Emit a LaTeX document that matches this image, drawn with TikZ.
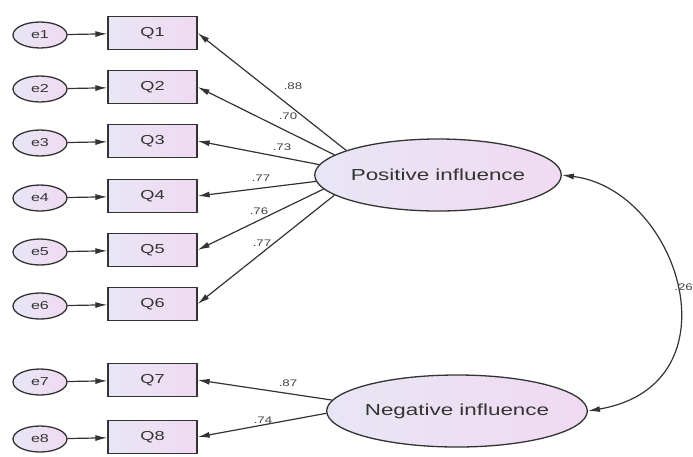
\documentclass[tikz,border=0pt]{standalone}
\usepackage{fontspec}
\setmainfont{Liberation Sans}
\newfontfamily\widefont[FakeStretch=1.4]{Liberation Sans}
\usetikzlibrary{arrows.meta,shapes.geometric}
\definecolor{lineC}{HTML}{333333}
\definecolor{fillL}{HTML}{E8E6F4}
\definecolor{fillR}{HTML}{F0DAF1}
\tikzset{
  obs/.style={draw=lineC, line width=1.3pt, rectangle, minimum width=89pt, minimum height=33pt, left color=fillL, right color=fillR, font=\widefont\fontsize{13}{13}\selectfont, text=black!80, inner sep=0pt},
  err/.style={draw=lineC, line width=1.3pt, ellipse, minimum width=54pt, minimum height=26pt, left color=fillL, right color=fillR, font=\widefont\fontsize{11.5}{12}\selectfont, text=black!80, inner sep=0pt},
  lat/.style={draw=lineC, line width=1.3pt, ellipse, left color=fillL, right color=fillR, font=\widefont\fontsize{16}{16}\selectfont, text=black!80, inner sep=0pt},
  arr/.style={draw=lineC, line width=1.2pt, -{Latex[length=12pt,width=6pt]}},
  darr/.style={draw=lineC, line width=1.2pt, {Latex[length=12pt,width=6pt]}-{Latex[length=12pt,width=6pt]}},
  lbl/.style={font=\widefont\fontsize{9.5}{10}\selectfont, text=black!75, inner sep=0pt}
}
\begin{document}
\begin{tikzpicture}[x=1pt,y=-1pt]
\useasboundingbox (0,0) rectangle (693,456);
% observed
\foreach \i/\y in {1/33,2/87,3/141,4/196,5/250,6/304,7/380,8/437}{
  \node[obs] (q\i) at (152.5,\y) {Q\i};
  \node[err] (e\i) at (40,\y+2) {e\i};
  \draw[arr] (e\i) -- (q\i);
}
\node[lat, minimum width=200pt, minimum height=72pt] (pos) at (438,175) {Positive influence};
\node[lat, minimum width=210pt, minimum height=72pt] (neg) at (457,411) {Negative influence};
\foreach \i/\a in {1/165.5,2/169.5,3/175,4/183,5/187.5,6/191.5}{ \draw[arr] (pos.\a) -- (q\i.east); }
\draw[arr] (neg.175) -- (q7.east);
\draw[arr] (neg.181) -- (q8.east);
\draw[darr] (pos.east) .. controls (680,190) and (740,385) .. (neg.east);
% labels
\node[lbl] (l1) at (293,86) {.88};
\node[lbl] (l2) at (288,116) {.70};
\node[lbl] (l3) at (282,147) {.73};
\node[lbl] (l4) at (261,178) {.77};
\node[lbl] (l5) at (259,211) {.76};
\node[lbl] (l6) at (262,243) {.77};
\node[lbl] (l7) at (288,383) {.87};
\node[lbl] (l8) at (263,420) {.74};
\node[lbl, anchor=east] (l9) at (693,287) {.26};
\end{tikzpicture}
\end{document}
